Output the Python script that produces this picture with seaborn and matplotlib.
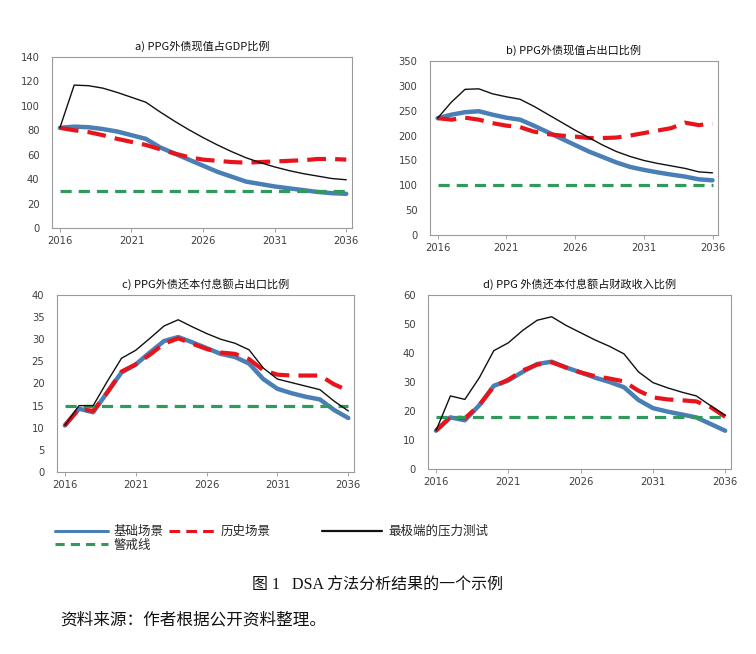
import numpy as np
import pandas as pd
import matplotlib
matplotlib.use("Agg")
import matplotlib.pyplot as plt
import seaborn as sns
from matplotlib.lines import Line2D

# === Data ===
years = list(range(2016, 2037))

base_a = [82, 83, 82.5, 81, 79, 76, 73, 66, 61, 56, 51, 46, 42, 38, 36, 34, 32.5, 31, 29.5, 28.5, 28]
hist_a = [82, 80, 78.5, 76, 73, 70.5, 68, 64.5, 61, 58, 56, 55, 54, 53.5, 54, 54.5, 55, 55.5, 56.5, 56.5, 56]
stress_a = [82, 117, 116.5, 114.5, 111, 107, 103, 95, 87.5, 80.5, 74, 68, 62.5, 57.5, 53.5, 50, 47, 44.5, 42.5, 40.5, 39.5]
limit_a = 30

base_b = [235, 242, 247, 249, 242, 236, 232, 220, 207, 194, 181, 168, 157, 146, 137, 131, 126, 121.5, 117.5, 112, 110]
hist_b = [235, 232, 236, 232, 225, 220, 217, 208, 203, 200, 198, 195, 195, 196, 200, 205, 210, 215, 226, 221, 224]
stress_b = [235, 267, 293, 294, 284, 278, 273, 259, 243, 227, 211, 196, 181, 168, 158, 150, 144, 139, 134, 127, 125]
limit_b = 100

base_c = [10.5, 14.3, 13.5, 18, 22.5, 24.3, 27, 29.6, 30.5, 29.3, 28, 26.7, 26, 24.5, 21, 18.8, 17.8, 17, 16.4, 14, 12.2]
hist_c = [10.5, 14.3, 13.8, 18, 22.7, 24.3, 26.5, 29, 30.2, 29, 27.8, 27, 26.7, 25.5, 23, 22, 21.8, 21.8, 21.8, 19.8, 18.4]
stress_c = [10.5, 15, 15, 20.5, 25.7, 27.5, 30.2, 33, 34.4, 32.8, 31.3, 30, 29.1, 27.6, 23.5, 21, 20.2, 19.4, 18.6, 16, 13.8]
limit_c = 15

base_d = [13.2, 17.8, 16.8, 22, 28.7, 30.5, 33.5, 36.2, 37, 35, 33.3, 31.5, 30, 28.2, 23.8, 21, 19.8, 18.8, 17.8, 15.5, 13.2]
hist_d = [13.2, 18, 17.5, 22, 28.5, 30.8, 34, 36, 36.8, 35, 33.3, 32, 31.2, 30.2, 27, 24.7, 24, 23.7, 23.3, 21.3, 18]
stress_d = [13.2, 25.2, 24, 31.5, 40.8, 43.5, 47.8, 51.3, 52.5, 49.5, 47, 44.5, 42.3, 39.7, 33.5, 29.8, 28, 26.5, 25.2, 21.8, 18.5]
limit_d = 18

titles = ["a) PPG外债现值占GDP比例", "b) PPG外债现值占出口比例",
          "c) PPG外债还本付息额占出口比例", "d) PPG 外债还本付息额占财政收入比例"]
ymax = [140, 350, 40, 60]
ystep = [20, 50, 5, 10]

labels = ["基础场景", "历史场景", "最极端的压力测试", "警戒线"]

# === Style ===
sns.set_theme(style="white")
plt.rcParams['font.family'] = ['Noto Sans CJK SC', 'DejaVu Sans']

BLUE = "#4a7fb5"
RED = "#e8141b"
GREEN = "#2f9a5c"
BLACK = "#111111"

fig = plt.figure(figsize=(7.56, 6.54), dpi=100)

W, H = 756, 654
boxes = [(52, 57, 352, 228), (430, 61, 718, 235),
         (57, 295, 354, 472), (428, 295, 731, 469)]

panels = [(base_a, hist_a, stress_a, limit_a),
          (base_b, hist_b, stress_b, limit_b),
          (base_c, hist_c, stress_c, limit_c),
          (base_d, hist_d, stress_d, limit_d)]

for i, (base, hist, stress, limit) in enumerate(panels):
    l, t, r, b = boxes[i]
    ax = fig.add_axes([l / W, 1 - b / H, (r - l) / W, (b - t) / H])
    df = pd.DataFrame({"year": years, "base": base, "hist": hist,
                       "stress": stress, "limit": [limit] * len(years)})

    sns.lineplot(data=df, x="year", y="base", ax=ax, color=BLUE, lw=3.2, zorder=1)
    sns.lineplot(data=df, x="year", y="hist", ax=ax, color=RED, lw=3.0, zorder=2,
                 dashes=False).lines[-1].set_dashes([4.5, 2.2])
    sns.lineplot(data=df, x="year", y="limit", ax=ax, color=GREEN, lw=2.3, zorder=3,
                 dashes=False).lines[-1].set_dashes([3.5, 2.2])
    sns.lineplot(data=df, x="year", y="stress", ax=ax, color=BLACK, lw=1.0, zorder=4)

    ax.set_xlim(2015.45, 2036.4)
    ax.set_ylim(0, ymax[i])
    ax.set_xticks([2016, 2021, 2026, 2031, 2036])
    ax.set_yticks(np.arange(0, ymax[i] + 1, ystep[i]))
    ax.set_xlabel("")
    ax.set_ylabel("")
    ax.set_title(titles[i], fontsize=8, pad=5, color="#111111")
    ax.tick_params(axis="x", length=3, width=0.6, color="#999999", labelsize=7.2,
                   labelcolor="#404040", pad=3, direction="out", bottom=True)
    ax.tick_params(axis="y", length=0, labelsize=7.2, labelcolor="#404040", pad=9)
    for lab in ax.get_xticklabels() + ax.get_yticklabels():
        lab.set_family("DejaVu Sans")
    for s in ax.spines.values():
        s.set_color("#9a9a9a")
        s.set_linewidth(0.8)

# === Legend (three groups like the original) ===
h_base = Line2D([], [], color=BLUE, lw=2.2)
h_limit = Line2D([], [], color=GREEN, lw=2.2, dashes=[3, 2])
h_hist = Line2D([], [], color=RED, lw=2.2, dashes=[3.5, 2])
h_stress = Line2D([], [], color=BLACK, lw=1.6)

leg_kw = dict(frameon=False, fontsize=9, handlelength=4.2, handletextpad=0.5,
              labelspacing=0.05, borderpad=0, borderaxespad=0)
fig.legend([h_base, h_limit], [labels[0], labels[3]], loc="upper left",
           bbox_to_anchor=(55 / W, 1 - 525 / H), **leg_kw)
fig.legend([h_hist], [labels[1]], loc="upper left",
           bbox_to_anchor=(169 / W, 1 - 525 / H), **dict(leg_kw, handlelength=3.6))
fig.legend([h_stress], [labels[2]], loc="upper left",
           bbox_to_anchor=(322 / W, 1 - 525 / H), **dict(leg_kw, handlelength=4.8))

fig.text(378 / W, 1 - 586 / H, "图 1   DSA 方法分析结果的一个示例", ha="center",
         va="center", fontsize=11.5, color="#111111",
         family=['Liberation Serif', 'Noto Sans CJK SC'])
fig.text(60 / W, 1 - 620 / H, "资料来源：作者根据公开资料整理。", ha="left",
         va="center", fontsize=12, color="#111111")

fig.savefig("out.png", dpi=100)
